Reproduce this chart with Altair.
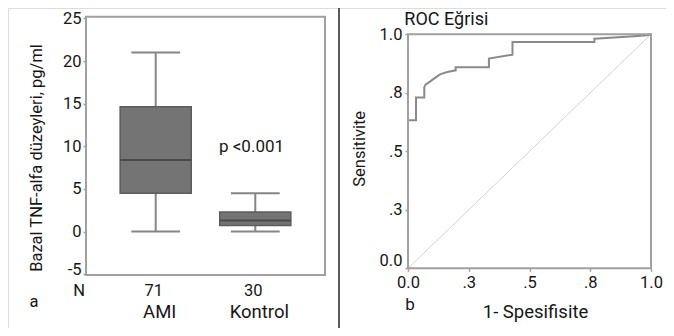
import altair as alt
import pandas as pd

# ---------------- data ----------------
groups = ["AMI", "Kontrol"]
group_pos = [1, 2]
group_n = ["71", "30"]
whisker_low = [0.0, 0.0]
q1 = [4.5, 0.7]
median = [8.4, 1.3]
q3 = [14.65, 2.3]
whisker_high = [21.0, 4.5]
y_ticks_a = [-5, 0, 5, 10, 15, 20, 25]
p_text = "p <0.001"

roc_fpr = [0, 0, 0.033, 0.033, 0.067, 0.067, 0.072, 0.093, 0.114, 0.134, 0.162,
           0.196, 0.196, 0.333, 0.333, 0.43, 0.43, 0.767, 0.767, 0.915, 0.985, 1.0]
roc_tpr = [0, 0.633, 0.633, 0.73, 0.73, 0.773, 0.785, 0.80, 0.816, 0.83, 0.839,
           0.846, 0.859, 0.859, 0.896, 0.913, 0.967, 0.967, 0.981, 0.991, 0.996, 1.0]
roc_ticks = [0, 0.25, 0.5, 0.75, 1.0]
roc_tick_labels = ["0.0", ".3", ".5", ".8", "1.0"]

# ---------------- styles / layout ----------------
FONT = "Roboto"
TXT = "#161616"
FRAME = "#a0a0a0"
BOX_FILL = "#747474"
BOX_STROKE = "#5c5c5c"
WHISK = "#858585"
W, H = 658, 320
BOX_HALF = 0.357
CAP_HALF = 0.245

XA_DOM = [0.3, 2.7]
YA_DOM = [-5.1, 25.2]
XA = alt.Scale(domain=XA_DOM, range=[78, 317], nice=False, zero=False)
YA = alt.Scale(domain=YA_DOM, range=[267, 8.7], nice=False, zero=False)
XB = alt.Scale(domain=[0, 1], range=[400, 643], nice=False, zero=False)
YB = alt.Scale(domain=[0, 1], range=[260.3, 26.3], nice=False, zero=False)

box_df = pd.DataFrame({"group": groups, "pos": group_pos, "n": group_n,
                       "lo": whisker_low, "q1": q1, "med": median,
                       "q3": q3, "hi": whisker_high})
base_a = alt.Chart(box_df).transform_calculate(
    xl=f"datum.pos - {BOX_HALF}", xr=f"datum.pos + {BOX_HALF}",
    cl=f"datum.pos - {CAP_HALF}", cr=f"datum.pos + {CAP_HALF}")

def xa(f):
    return alt.X(f, type="quantitative", scale=XA, axis=None)

def ya(f):
    return alt.Y(f, type="quantitative", scale=YA, axis=None)

def xb(f):
    return alt.X(f, type="quantitative", scale=XB, axis=None)

def yb(f):
    return alt.Y(f, type="quantitative", scale=YB, axis=None)

# frame of panel a, with the y axis
frame_a_df = pd.DataFrame({"x0": [XA_DOM[0]], "x1": [XA_DOM[1]],
                           "y0": [YA_DOM[0]], "y1": [YA_DOM[1]]})
frame_a = alt.Chart(frame_a_df).mark_rect(
    fill="white", fillOpacity=0, stroke=FRAME, strokeWidth=2).encode(
    x=xa("x0"), x2="x1",
    y=alt.Y("y0", type="quantitative", scale=YA, axis=alt.Axis(
        orient="left", offset=-78, values=y_ticks_a, domain=False, grid=False,
        labelExpr="'' + datum.value",
        tickSize=3, tickColor=FRAME, tickWidth=1.5, labelPadding=2,
        labelFont=FONT, labelFontSize=16.5, labelColor=TXT,
        labelOffset=alt.condition("datum.value == -5", alt.value(-5), alt.value(0)),
        title="Bazal TNF-alfa düzeyleri, pg/ml", titleFont=FONT,
        titleFontSize=16.5, titleFontWeight="normal", titleColor=TXT,
        titleX=-50, titleY=149.5, titleBaseline="middle", titleAlign="center")),
    y2="y1")

whisk_hi = base_a.mark_rule(color=WHISK, strokeWidth=2).encode(
    x=xa("pos"), y=ya("hi"), y2="q3")
whisk_lo = base_a.mark_rule(color=WHISK, strokeWidth=2).encode(
    x=xa("pos"), y=ya("q1"), y2="lo")
cap_hi = base_a.mark_rule(color=WHISK, strokeWidth=2).encode(
    x=xa("cl"), x2="cr", y=ya("hi"))
cap_lo = base_a.mark_rule(color=WHISK, strokeWidth=2).encode(
    x=xa("cl"), x2="cr", y=ya("lo"))
boxes = base_a.mark_rect(fill=BOX_FILL, stroke=BOX_STROKE, strokeWidth=1.5).encode(
    x=xa("xl"), x2="xr", y=ya("q1"), y2="q3")
med = base_a.mark_rule(color="#4a4a4a", strokeWidth=2).encode(
    x=xa("xl"), x2="xr", y=ya("med"))

n_txt = base_a.transform_calculate(ny="-7.56").mark_text(
    font=FONT, fontSize=16.5, color=TXT, baseline="alphabetic", align="center", dx=-2).encode(
    x=xa("pos"), y=ya("ny"), text="n")
name_txt = base_a.transform_calculate(gy="-10.18").mark_text(
    font=FONT, fontSize=18.5, color=TXT, baseline="alphabetic", align="center", dx=4).encode(
    x=xa("pos"), y=ya("gy"), text="group")

ann_a_df = pd.DataFrame({"x": [0.232, -0.222], "y": [-7.56, -8.82], "t": ["N", "a"]})
ann_a = alt.Chart(ann_a_df).mark_text(font=FONT, color=TXT, baseline="alphabetic",
                                      align="center", fontSize=16.5).encode(
    x=xa("x"), y=ya("y"), text="t")
p_df = pd.DataFrame({"x": [1.635], "y": [9.36], "t": [p_text]})
p_ann = alt.Chart(p_df).mark_text(font=FONT, color=TXT, baseline="alphabetic",
                                  align="left", fontSize=17).encode(
    x=xa("x"), y=ya("y"), text="t")

# ---------------- panel b ----------------
diag_df = pd.DataFrame({"x": [0, 1], "y": [0, 1]})
diag = alt.Chart(diag_df).mark_line(color="#d2d2d2", strokeWidth=1).encode(
    x=xb("x"), y=yb("y"))

roc_df = pd.DataFrame({"fpr": roc_fpr, "tpr": roc_tpr, "i": list(range(len(roc_fpr)))})
roc = alt.Chart(roc_df).mark_line(color="#8a8a8a", strokeWidth=2).encode(
    x=xb("fpr"), y=yb("tpr"), order="i:Q")

lab_expr = " : ".join(
    [f"datum.value == {v} ? '{l}'" for v, l in zip(roc_ticks, roc_tick_labels)]) + " : ''"

frame_b_df = pd.DataFrame({"x0": [0], "x1": [1], "y0": [0], "y1": [1]})
frame_b = alt.Chart(frame_b_df).mark_rect(
    fill="white", fillOpacity=0, stroke=FRAME, strokeWidth=2).encode(
    x=alt.X("x0", type="quantitative", scale=XB, axis=alt.Axis(
        orient="bottom", offset=-(H - 260.3), values=roc_ticks, labelExpr=lab_expr,
        domain=False, grid=False, tickSize=3, tickColor=FRAME, tickWidth=1.5,
        labelPadding=3, labelFont=FONT, labelFontSize=16.5, labelColor=TXT,
        labelFlush=False,
        title="1- Spesifisite", titleFont=FONT, titleFontSize=18.5,
        titleFontWeight="normal", titleColor=TXT, titleX=527, titleY=48.7,
        titleBaseline="alphabetic", titleAlign="center")),
    x2="x1",
    y=alt.Y("y0", type="quantitative", scale=YB, axis=alt.Axis(
        orient="left", offset=-400, values=roc_ticks, labelExpr=lab_expr,
        domain=False, grid=False, tickSize=3, tickColor=FRAME, tickWidth=1.5,
        labelPadding=3, labelFont=FONT, labelFontSize=16.5, labelColor=TXT,
        labelFlush=False,
        labelOffset=alt.condition("datum.value == 0", alt.value(-8), alt.value(0)),
        title="Sensitivite", titleFont=FONT, titleFontSize=16.5,
        titleFontWeight="normal", titleColor=TXT, titleX=-49, titleY=140.3,
        titleBaseline="middle", titleAlign="center")),
    y2="y1")

roc_title = alt.Chart(pd.DataFrame({"x": [-0.015], "y": [1.038], "t": ["ROC Eğrisi"]})).mark_text(
    font=FONT, color=TXT, baseline="alphabetic", align="left", fontSize=18).encode(
    x=xb("x"), y=yb("y"), text="t")
b_lab = alt.Chart(pd.DataFrame({"x": [0.008], "y": [-0.178], "t": ["b"]})).mark_text(
    font=FONT, color=TXT, baseline="alphabetic", align="center", fontSize=17).encode(
    x=xb("x"), y=yb("y"), text="t")

divider = alt.Chart(pd.DataFrame({"d": [0]})).mark_rule(color="#5a5a5a", strokeWidth=2).encode(
    x=alt.value(331), y=alt.value(0), y2=alt.value(H))

chart = alt.layer(
    frame_a, whisk_hi, whisk_lo, cap_hi, cap_lo, boxes, med, n_txt, name_txt, ann_a, p_ann,
    diag, roc, frame_b, roc_title, b_lab, divider
).resolve_scale(x="independent", y="independent").properties(
    width=W, height=H, padding=0, autosize=alt.AutoSizeParams(type="none")
).configure_view(stroke="#5a5a5a", strokeWidth=4).configure(background="white")

chart.save("out.html", embed_options={"renderer": "svg", "actions": False})
